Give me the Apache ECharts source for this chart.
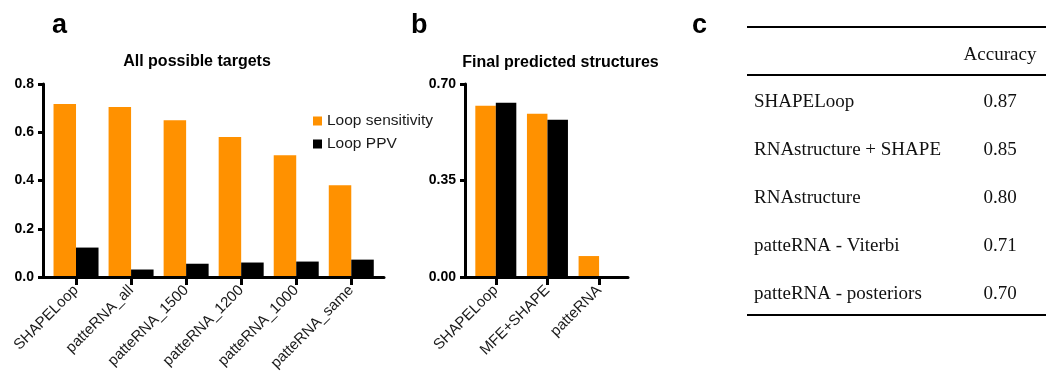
<!DOCTYPE html>
<html>
<head>
<meta charset="utf-8">
<script src="https://cdn.jsdelivr.net/npm/echarts@6/dist/echarts.min.js"></script>
<style>
html,body{margin:0;padding:0;background:#fff;}
#chart{width:1046px;height:374px;}
</style>
</head>
<body>
<div id="chart"></div>
<script>
// ---- data ----
const catsA = ['SHAPELoop','patteRNA_all','patteRNA_1500','patteRNA_1200','patteRNA_1000','patteRNA_same'];
const sensA = [0.717, 0.705, 0.650, 0.580, 0.505, 0.380];
const ppvA  = [0.122, 0.031, 0.055, 0.060, 0.064, 0.072];
const catsB = ['SHAPELoop','MFE+SHAPE','patteRNA'];
const sensB = [0.621, 0.592, 0.076];
const ppvB  = [0.632, 0.570, 0];
const seriesNames = ['Loop sensitivity','Loop PPV'];
const titleA = 'All possible targets';
const titleB = 'Final predicted structures';
const tableHeader = 'Accuracy';
const methods = ['SHAPELoop','RNAstructure + SHAPE','RNAstructure','patteRNA - Viterbi','patteRNA - posteriors'];
const accuracy = ['0.87','0.85','0.80','0.71','0.70'];

// ---- styles ----
const ORANGE = '#ff9100';
const BLACK = '#000000';
const SANS = '"Liberation Sans", Arial, Helvetica, sans-serif';
const SERIF = '"Liberation Serif", "Times New Roman", serif';

const chart = echarts.init(document.getElementById('chart'), null, {renderer:'canvas'});

function catX(grid, cats){
  return {
    type:'category', gridIndex:grid, data:cats,
    axisLine:{show:false},
    axisTick:{show:true, alignWithLabel:true, length:8, lineStyle:{color:BLACK, width:3}},
    axisLabel:{rotate:45, fontSize:15, fontFamily:SANS, color:'#1a1a1a', margin:11, interval:0},
    splitLine:{show:false}
  };
}
function frameX(grid){
  return {
    type:'value', gridIndex:grid, min:0, max:1, z:5,
    axisLine:{show:true, lineStyle:{color:BLACK, width:3}},
    axisTick:{show:false}, axisLabel:{show:false}, splitLine:{show:false}
  };
}
function hiddenY(grid, max){
  return {type:'value', gridIndex:grid, min:0, max:max, show:false, splitLine:{show:false}};
}
function frameY(grid, max, interval, digits){
  return {
    type:'value', gridIndex:grid, min:0, max:max, interval:interval, z:5,
    axisLine:{show:true, lineStyle:{color:BLACK, width:3}},
    axisTick:{show:true, length:5, lineStyle:{color:BLACK, width:3}},
    axisLabel:{fontSize:14, fontWeight:'bold', fontFamily:SANS, color:BLACK, margin:9,
      formatter:v=>v.toFixed(digits)},
    splitLine:{show:false}
  };
}

const graphics = [];
function txt(x, y, text, font, align, color){
  graphics.push({type:'text', x:x, y:y, silent:true,
    style:{text:text, font:font, textAlign:align||'left', textVerticalAlign:'middle', fill:color||BLACK}});
}
function hline(x1, x2, y){
  graphics.push({type:'line', silent:true, shape:{x1:x1, y1:y, x2:x2, y2:y},
    style:{stroke:BLACK, lineWidth:2}});
}
// panel letters
txt(52, 25.6, 'a', 'bold 27px ' + SANS);
txt(411, 25.6, 'b', 'bold 27px ' + SANS);
txt(692, 25.6, 'c', 'bold 27px ' + SANS);
// panel titles
txt(197, 61.5, titleA, 'bold 16px ' + SANS, 'center');
txt(560.5, 62.2, titleB, 'bold 16px ' + SANS, 'center');
// table
hline(747, 1046, 27);
txt(1000, 55.3, tableHeader, '19px ' + SERIF, 'center', '#111');
hline(747, 1046, 75);
methods.forEach((m, i) => {
  txt(754, 101.6 + 48 * i, m, '19px ' + SERIF, 'left', '#111');
  txt(1000, 101.6 + 48 * i, accuracy[i], '19px ' + SERIF, 'center', '#111');
});
hline(747, 1046, 315);

const option = {
  animation:false,
  backgroundColor:'#fff',
  legend:{
    data:seriesNames, orient:'vertical', left:308, top:108,
    itemWidth:9, itemHeight:9, itemGap:7, icon:'rect', selectedMode:false,
    textStyle:{fontSize:15.5, fontFamily:SANS, color:'#1a1a1a'}
  },
  grid:[
    {left:48.5, top:84, width:330.3, height:193},
    {left:43, top:84, width:341, height:193},
    {left:470, top:84, width:154.9, height:193},
    {left:465, top:84, width:163, height:193}
  ],
  xAxis:[catX(0, catsA), frameX(1), catX(2, catsB), frameX(3)],
  yAxis:[hiddenY(0, 0.8), frameY(1, 0.8, 0.2, 1), hiddenY(2, 0.7), frameY(3, 0.7, 0.35, 2)],
  series:[
    {type:'bar', name:seriesNames[0], xAxisIndex:0, yAxisIndex:0, data:sensA, barWidth:22.5, barGap:'0%', itemStyle:{color:ORANGE}},
    {type:'bar', name:seriesNames[1], xAxisIndex:0, yAxisIndex:0, data:ppvA, barWidth:22.5, barGap:'0%', itemStyle:{color:BLACK}},
    {type:'bar', name:seriesNames[0], xAxisIndex:2, yAxisIndex:2, data:sensB, barWidth:20.5, barGap:'0%', itemStyle:{color:ORANGE}},
    {type:'bar', name:seriesNames[1], xAxisIndex:2, yAxisIndex:2, data:ppvB, barWidth:20.5, barGap:'0%', itemStyle:{color:BLACK}}
  ],
  graphic:graphics
};
chart.setOption(option);
</script>
</body>
</html>
